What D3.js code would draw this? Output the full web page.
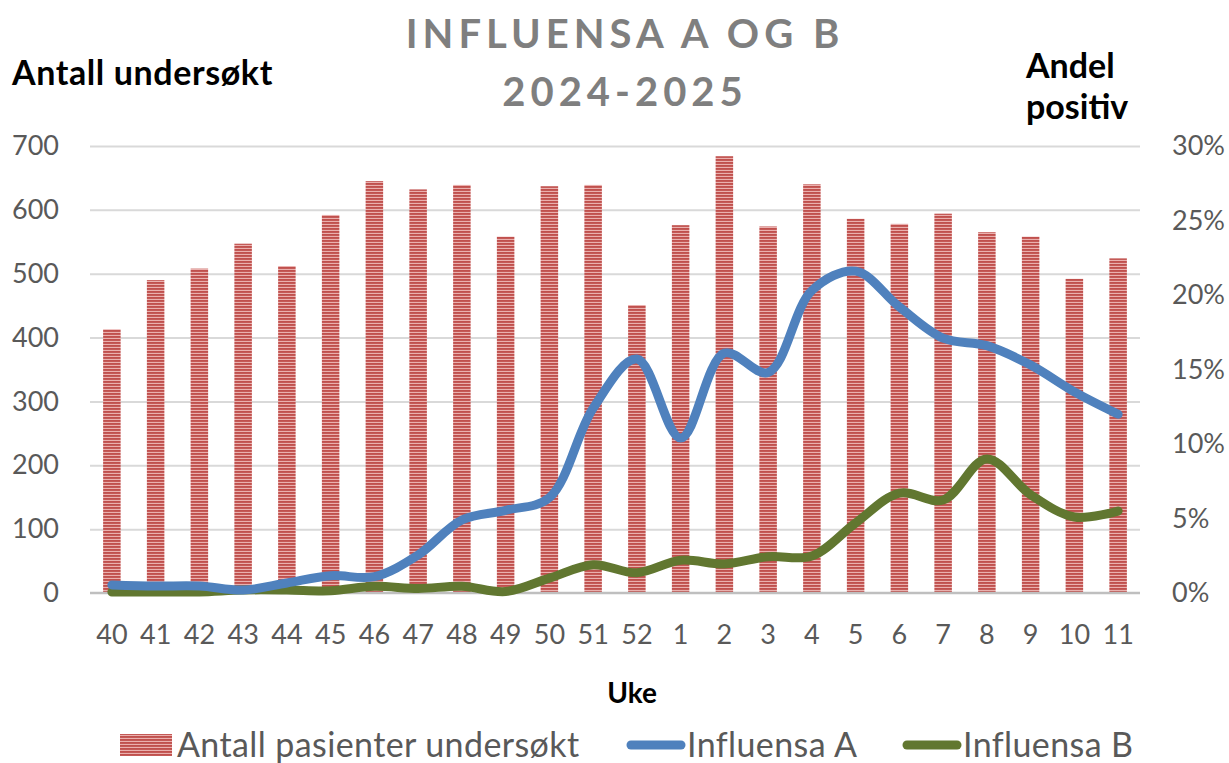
<!DOCTYPE html>
<html>
<head>
<meta charset="utf-8">
<script src="https://cdn.jsdelivr.net/npm/d3@7"></script>
<style>
body { margin: 0; background: #fff; }
text { font-family: Lato, "Open Sans", sans-serif; }
</style>
</head>
<body>
<script>
var w = 1229;
var h = 763;

var weeks = ["40","41","42","43","44","45","46","47","48","49","50","51","52",
             "1","2","3","4","5","6","7","8","9","10","11"];
var antall = [413, 490, 508, 547, 512, 592, 645, 632, 639, 558, 637, 639, 451,
              576, 684, 574, 640, 586, 578, 594, 565, 558, 492, 524];
var influensaA = [0.54, 0.47, 0.47, 0.2, 0.67, 1.16, 1.1, 2.55, 4.9, 5.55, 6.4, 12.4, 15.7,
                  10.4, 16.1, 14.8, 20.3, 21.6, 19.2, 17.1, 16.6, 15.3, 13.5, 12.0];
var influensaB = [0.07, 0.07, 0.07, 0.2, 0.2, 0.15, 0.45, 0.3, 0.45, 0.1, 1.0, 1.9, 1.36,
                  2.2, 1.95, 2.44, 2.48, 4.7, 6.7, 6.24, 9.0, 6.6, 5.1, 5.5];
var leftTicks = [0, 100, 200, 300, 400, 500, 600, 700];
var rightTicks = [0, 5, 10, 15, 20, 25, 30];

var mLeft = 90, mRight = 1140, mTop = 146, mBottom = 593;

var svg = d3.select("body").append("svg")
    .attr("width", w)
    .attr("height", h);

// stripe pattern for bars
var defs = svg.append("defs");
var pat = defs.append("pattern")
    .attr("id", "stripes")
    .attr("patternUnits", "userSpaceOnUse")
    .attr("width", 6)
    .attr("height", 3);
pat.append("rect").attr("width", 6).attr("height", 3).attr("fill", "#eab0ae");
pat.append("rect").attr("width", 6).attr("height", 1.9).attr("fill", "#c0504d");

var xScale = d3.scaleBand()
    .domain(weeks)
    .range([mLeft, mRight]);

var yLeft = d3.scaleLinear()
    .domain([0, 700])
    .range([mBottom, mTop]);

var yRight = d3.scaleLinear()
    .domain([0, 30])
    .range([mBottom, mTop]);

// gridlines
svg.append("g")
    .attr("transform", "translate(" + mLeft + ",0)")
    .call(d3.axisLeft(yLeft).tickValues(leftTicks.slice(1)).tickSize(-(mRight - mLeft)).tickFormat(""))
    .call(function(g){
        g.select(".domain").remove();
        g.selectAll("line").attr("stroke", "#d9d9d9").attr("stroke-width", 2);
    });

// bars
var barW = xScale.bandwidth() * 0.4;
svg.selectAll("rect.bar")
    .data(antall)
    .enter()
    .append("rect")
    .attr("class", "bar")
    .attr("x", function(d, i){ return xScale(weeks[i]) + (xScale.bandwidth() - barW) / 2; })
    .attr("y", function(d){ return yLeft(d); })
    .attr("width", barW)
    .attr("height", function(d){ return mBottom - yLeft(d); })
    .attr("fill", "url(#stripes)");

// baseline
svg.append("line")
    .attr("x1", mLeft).attr("x2", mRight)
    .attr("y1", mBottom).attr("y2", mBottom)
    .attr("stroke", "#bfbfbf").attr("stroke-width", 2.5);

// lines
var line = d3.line()
    .x(function(d, i){ return xScale(weeks[i]) + xScale.bandwidth() / 2; })
    .y(function(d){ return yRight(d); })
    .curve(d3.curveCatmullRom.alpha(0.5));

svg.append("path")
    .datum(influensaB)
    .attr("d", line)
    .attr("fill", "none")
    .attr("stroke", "#617730")
    .attr("stroke-width", 9)
    .attr("stroke-linecap", "round");

svg.append("path")
    .datum(influensaA)
    .attr("d", line)
    .attr("fill", "none")
    .attr("stroke", "#4f81bd")
    .attr("stroke-width", 9)
    .attr("stroke-linecap", "round");

// axes
function styleAxis(g){
    g.select(".domain").remove();
    g.selectAll("line").remove();
    g.selectAll("text")
        .attr("fill", "#595959")
        .style("font-size", "27px");
}

svg.append("g")
    .attr("transform", "translate(" + (mLeft - 31) + ",0)")
    .call(d3.axisLeft(yLeft).tickValues(leftTicks).tickSize(0).tickPadding(0))
    .call(styleAxis);

svg.append("g")
    .attr("transform", "translate(" + (mRight + 32) + ",0)")
    .call(d3.axisRight(yRight).tickValues(rightTicks).tickSize(0).tickPadding(0)
        .tickFormat(function(d){ return d + "%"; }))
    .call(styleAxis);

svg.append("g")
    .attr("transform", "translate(0," + (mBottom + 24) + ")")
    .call(d3.axisBottom(xScale).tickSize(0).tickPadding(8))
    .call(styleAxis);

// titles
var title = svg.append("text")
    .attr("text-anchor", "middle")
    .attr("fill", "#7f7f7f")
    .attr("font-weight", "bold")
    .style("font-size", "40px")
    .style("letter-spacing", "5px");
title.append("tspan").attr("x", 625).attr("y", 48).text("INFLUENSA A OG B");
title.append("tspan").attr("x", 625).attr("y", 106).text("2024-2025");

svg.append("text")
    .attr("x", 12).attr("y", 85)
    .attr("font-weight", "bold")
    .style("font-size", "34px")
    .style("letter-spacing", "0.6px")
    .attr("fill", "#000")
    .text("Antall undersøkt");

var rt = svg.append("text")
    .attr("font-weight", "bold")
    .style("font-size", "34px")
    .attr("fill", "#000");
rt.append("tspan").attr("x", 1026).attr("y", 78).text("Andel");
rt.append("tspan").attr("x", 1026).attr("y", 119).text("positiv");

svg.append("text")
    .attr("x", 632).attr("y", 703)
    .attr("text-anchor", "middle")
    .attr("font-weight", "bold")
    .style("font-size", "28px")
    .attr("fill", "#000")
    .text("Uke");

// legend
var legend = svg.append("g").attr("transform", "translate(0,745)");
legend.append("rect")
    .attr("x", 120).attr("y", -11).attr("width", 52).attr("height", 22)
    .attr("fill", "url(#stripes)");
legend.append("line")
    .attr("x1", 631).attr("x2", 681).attr("y1", 0).attr("y2", 0)
    .attr("stroke", "#4f81bd").attr("stroke-width", 9).attr("stroke-linecap", "round");
legend.append("line")
    .attr("x1", 907).attr("x2", 957).attr("y1", 0).attr("y2", 0)
    .attr("stroke", "#617730").attr("stroke-width", 9).attr("stroke-linecap", "round");
var legTexts = [[177, "Antall pasienter undersøkt"], [687, "Influensa A"], [963, "Influensa B"]];
legend.selectAll("text.leg")
    .data(legTexts)
    .enter()
    .append("text")
    .attr("class", "leg")
    .attr("x", function(d){ return d[0]; })
    .attr("y", 12)
    .attr("fill", "#595959")
    .style("font-size", "34px")
    .style("letter-spacing", "0.4px")
    .text(function(d){ return d[1]; });
</script>
</body>
</html>
